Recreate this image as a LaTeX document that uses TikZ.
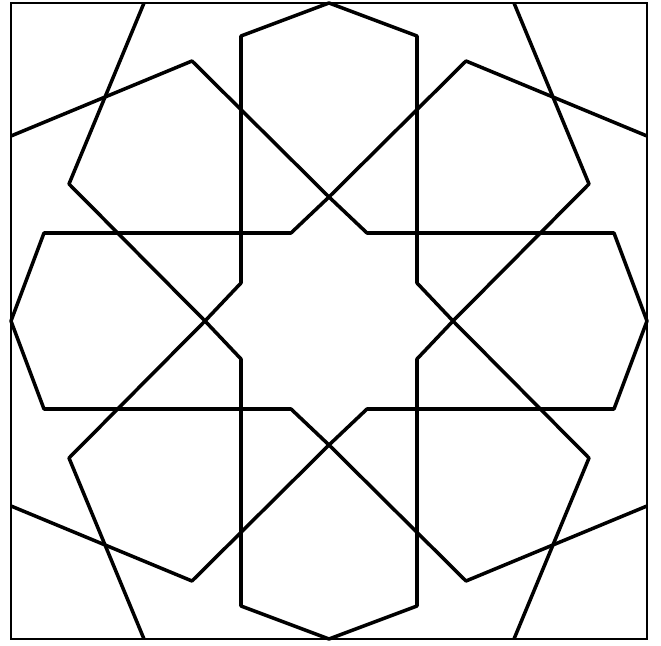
\documentclass[tikz,border=0pt]{standalone}
\begin{document}
\begin{tikzpicture}[
  x=0.03cm, y=0.03cm,
  border/.style={draw=black, line width=2.3pt},
  strand/.style={draw=black, line width=3pt, line join=round},
]

% Page size
\useasboundingbox (-329,-325) rectangle (332,321);

% Frame
\draw[border] (-318,-318) rectangle (318,318);

% One band with its two crossing arms, turned four times
\foreach \r in {0,90,180,270} {
  \draw[strand, rotate=\r]
    (-185,-318) -- (-260,-137) -- (-124,0) -- (-88,38) -- (-88,285)
    -- (0,318)
    -- (88,285) -- (88,38) -- (124,0) -- (260,-137) -- (185,-318);
}
\end{tikzpicture}
\end{document}
